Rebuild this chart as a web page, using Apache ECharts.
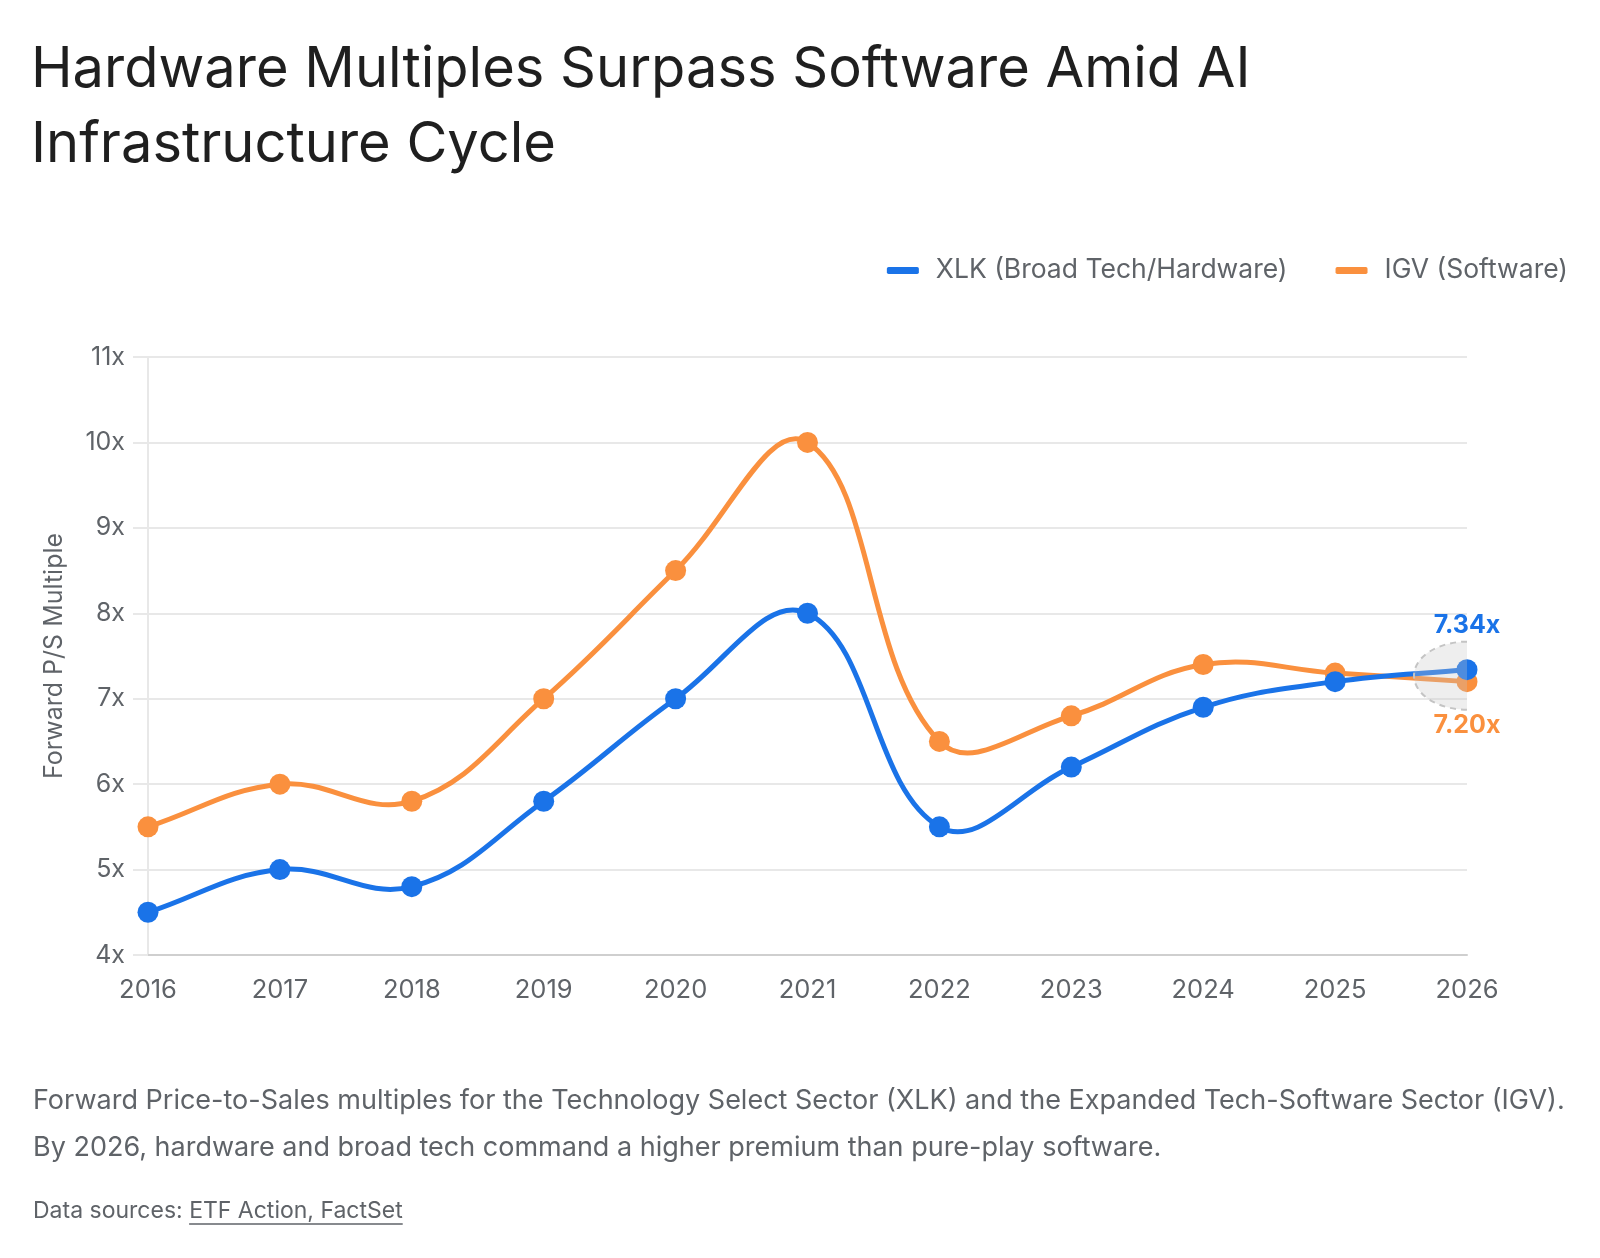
<!DOCTYPE html>
<html>
<head>
<meta charset="utf-8">
<title>Hardware Multiples Surpass Software Amid AI Infrastructure Cycle</title>
<script src="https://cdn.jsdelivr.net/npm/echarts@6/dist/echarts.min.js"></script>
<style>
  html, body { margin: 0; padding: 0; background: #ffffff; }
  #chart { width: 1600px; height: 1258px; }
</style>
</head>
<body>
<div id="chart"></div>
<script>
// 数据
const YEARS = ["2016", "2017", "2018", "2019", "2020", "2021", "2022", "2023", "2024", "2025", "2026"];
const XLK_VALUES = [4.5, 5.0, 4.8, 5.8, 7.0, 8.0, 5.5, 6.2, 6.9, 7.2, 7.34];
const IGV_VALUES = [5.5, 6.0, 5.8, 7.0, 8.5, 10.0, 6.5, 6.8, 7.4, 7.3, 7.2];
const Y_TICKS = { min: 4, max: 11, interval: 1 };

const XLK_NAME = "XLK (Broad Tech/Hardware)";
const IGV_NAME = "IGV (Software)";

// 颜色
const BLUE = "#1a73e8";
const ORANGE = "#fa903e";
const TEXT_PRIMARY = "#1f1f1f";
const TEXT_SECONDARY = "#5f6368";
const GRID_LINE = "#e8e8e8";
const FONT = "Inter, 'Noto Sans', sans-serif";
const TENSION = 0.4;

const CAPTION = "Forward Price-to-Sales multiples for the Technology Select Sector (XLK) and the Expanded Tech-Software Sector (IGV).\nBy 2026, hardware and broad tech command a higher premium than pure-play software.";
const SOURCE_PREFIX = "Data sources: ";
const SOURCE_LINK = "ETF Action, FactSet";

const last = YEARS.length - 1;

// 最后一个点带数值标签
function withEndLabel(values, color, position) {
  return values.map(function (v, i) {
    if (i !== last) return v;
    return {
      value: v,
      label: {
        show: true,
        position: position,
        distance: 21,
        formatter: v.toFixed(2) + "x",
        color: color,
        fontFamily: FONT,
        fontSize: 25,
        fontWeight: "bold",
      },
    };
  });
}

// 只画点和标签，曲线由下面的 custom 系列画
function pointSeries(name, values, color, labelPos, z) {
  return {
    name: name,
    type: "line",
    z: z,
    data: withEndLabel(values, color, labelPos),
    symbol: "circle",
    symbolSize: 21,
    lineStyle: { color: color, width: 0 },
    itemStyle: { color: color },
    emphasis: { disabled: true },
  };
}

// 张力样条曲线（带过冲，不做端点约束）
function curveSeries(values, color, z) {
  return {
    type: "custom",
    silent: true,
    z: z,
    data: values.map(function (v, i) { return [i, v]; }),
    encode: { x: 0, y: 1 },
    renderItem: function (params, api) {
      if (params.dataIndex !== 0) return { type: "group", children: [] };
      const pts = values.map(function (v, i) { return api.coord([i, v]); });
      const n = pts.length;
      const cpPrev = [], cpNext = [];
      for (let i = 0; i < n; i++) {
        const p0 = pts[Math.max(i - 1, 0)], p1 = pts[i], p2 = pts[Math.min(i + 1, n - 1)];
        const d01 = Math.hypot(p1[0] - p0[0], p1[1] - p0[1]);
        const d12 = Math.hypot(p2[0] - p1[0], p2[1] - p1[1]);
        const s = d01 + d12 || 1;
        const fa = TENSION * d01 / s, fb = TENSION * d12 / s;
        cpPrev.push([p1[0] - fa * (p2[0] - p0[0]), p1[1] - fa * (p2[1] - p0[1])]);
        cpNext.push([p1[0] + fb * (p2[0] - p0[0]), p1[1] + fb * (p2[1] - p0[1])]);
      }
      let d = "M" + pts[0][0] + " " + pts[0][1];
      for (let i = 1; i < n; i++) {
        d += " C" + cpNext[i - 1][0] + " " + cpNext[i - 1][1] + " " +
          cpPrev[i][0] + " " + cpPrev[i][1] + " " + pts[i][0] + " " + pts[i][1];
      }
      return {
        type: "path",
        shape: { pathData: d },
        style: { fill: null, stroke: color, lineWidth: 5, lineCap: "round", lineJoin: "round" },
      };
    },
  };
}

// 测量文字宽度，用来给来源链接画下划线
const measureCtx = document.createElement("canvas").getContext("2d");
function textWidth(str, size) {
  measureCtx.font = size + "px " + FONT;
  return measureCtx.measureText(str).width;
}

const chart = echarts.init(document.getElementById("chart"));

const srcX = 33;
const srcY = 1211;
const srcSize = 23;
const prefixW = textWidth(SOURCE_PREFIX, srcSize);
const linkW = textWidth(SOURCE_LINK, srcSize);

chart.setOption({
  animation: false,
  backgroundColor: "#ffffff",
  textStyle: { fontFamily: FONT },
  title: {
    text: "Hardware Multiples Surpass Software Amid AI\nInfrastructure Cycle",
    left: 31,
    top: 33,
    padding: 0,
    textStyle: {
      fontFamily: FONT,
      fontSize: 56,
      lineHeight: 75,
      fontWeight: "normal",
      color: TEXT_PRIMARY,
    },
  },
  legend: {
    data: [XLK_NAME, IGV_NAME],
    right: 27,
    top: 252,
    icon: "roundRect",
    itemWidth: 32,
    itemHeight: 7,
    itemGap: 48,
    selectedMode: false,
    textStyle: {
      fontFamily: FONT,
      fontSize: 26.5,
      color: TEXT_SECONDARY,
      padding: [0, 0, 0, 12],
    },
  },
  grid: { left: 148, right: 133, top: 357, bottom: 303 },
  xAxis: {
    type: "category",
    data: YEARS,
    boundaryGap: false,
    axisLine: { lineStyle: { color: "#cfcfcf", width: 2 } },
    axisTick: { show: false },
    axisLabel: { color: TEXT_SECONDARY, fontSize: 25.5, margin: 22 },
    splitLine: { show: false },
  },
  yAxis: {
    type: "value",
    min: Y_TICKS.min,
    max: Y_TICKS.max,
    interval: Y_TICKS.interval,
    name: "Forward P/S Multiple",
    nameLocation: "middle",
    nameGap: 81,
    nameTextStyle: { color: TEXT_SECONDARY, fontSize: 25 },
    axisLine: { show: true, lineStyle: { color: GRID_LINE, width: 2 } },
    axisTick: { show: true, length: 15, lineStyle: { color: GRID_LINE, width: 2 } },
    axisLabel: { color: TEXT_SECONDARY, fontSize: 25, margin: 23, formatter: "{value}x" },
    splitLine: { lineStyle: { color: GRID_LINE, width: 2 } },
  },
  series: [
    curveSeries(IGV_VALUES, ORANGE, 1),
    pointSeries(IGV_NAME, IGV_VALUES, ORANGE, "bottom", 2),
    curveSeries(XLK_VALUES, BLUE, 3),
    pointSeries(XLK_NAME, XLK_VALUES, BLUE, "top", 4),
    {
      // 2026 交叉点的高亮椭圆
      type: "custom",
      silent: true,
      z: 5,
      data: [[last, (XLK_VALUES[last] + IGV_VALUES[last]) / 2]],
      encode: { x: 0, y: 1 },
      renderItem: function (params, api) {
        const c = api.coord([api.value(0), api.value(1)]);
        const rx = 53, ry = 34;
        return {
          type: "path",
          shape: {
            pathData: "M" + c[0] + " " + (c[1] - ry) + " A" + rx + " " + ry + " 0 0 0 " + c[0] + " " + (c[1] + ry),
          },
          style: {
            fill: "rgba(200,200,200,0.3)",
            stroke: "#c4c4c4",
            lineWidth: 2,
            lineDash: [6, 5],
          },
        };
      },
    },
  ],
  graphic: [
    {
      type: "text",
      left: 33,
      top: 1077,
      style: {
        text: CAPTION,
        fontFamily: FONT,
        fontSize: 27,
        lineHeight: 47,
        fill: TEXT_SECONDARY,
      },
    },
    {
      type: "text",
      x: srcX,
      y: srcY,
      style: {
        text: SOURCE_PREFIX + SOURCE_LINK,
        fontFamily: FONT,
        fontSize: srcSize,
        fill: TEXT_SECONDARY,
        verticalAlign: "middle",
      },
    },
    {
      type: "line",
      shape: { x1: srcX + prefixW, y1: srcY + 13, x2: srcX + prefixW + linkW, y2: srcY + 13 },
      style: { stroke: TEXT_SECONDARY, lineWidth: 1.5 },
    },
  ],
});
</script>
</body>
</html>
